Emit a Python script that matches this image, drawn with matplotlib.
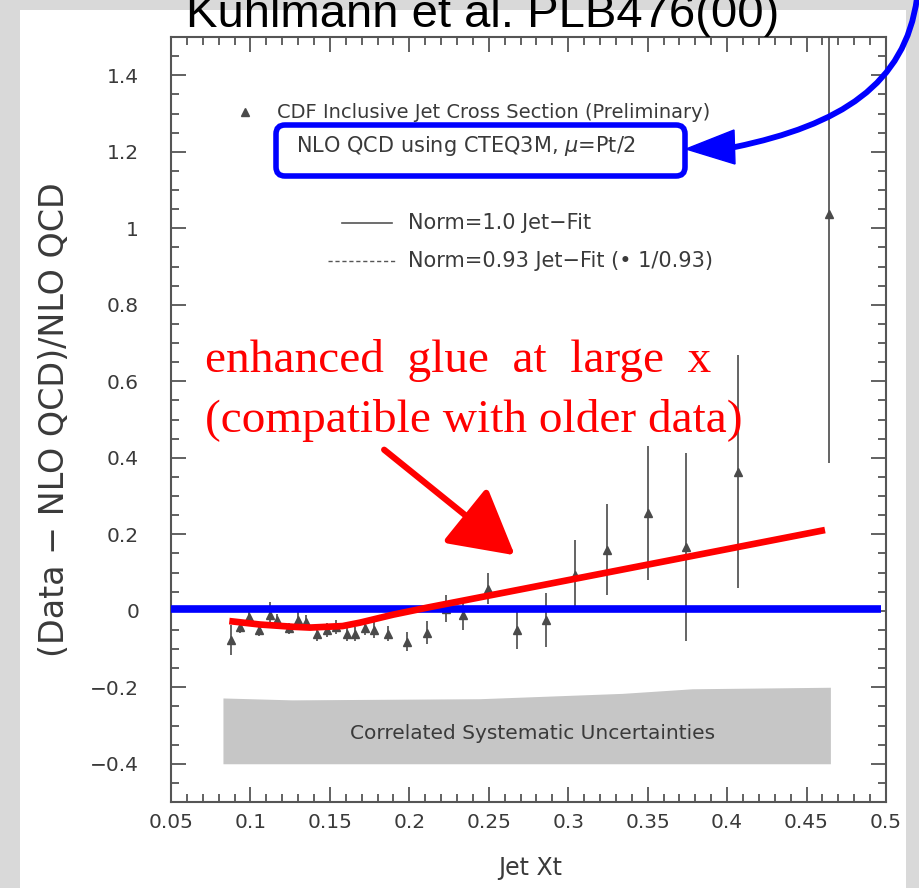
import numpy as np
import matplotlib
matplotlib.use("Agg")
import matplotlib.pyplot as plt
from matplotlib.patches import FancyBboxPatch, Rectangle, FancyArrowPatch, Polygon, PathPatch
from matplotlib.path import Path
from matplotlib.transforms import IdentityTransform

# ---------------- data ----------------
jet_xt = [0.0876, 0.0934, 0.099, 0.1056, 0.112, 0.117, 0.124, 0.130, 0.135, 0.1417,
          0.148, 0.154, 0.1606, 0.1658, 0.172, 0.178, 0.1866, 0.1985, 0.211, 0.223,
          0.234, 0.2495, 0.268, 0.286, 0.304, 0.3246, 0.350, 0.374, 0.4066, 0.464]
ratio = [-0.076, -0.042, -0.016, -0.050, -0.010, -0.024, -0.046, -0.024, -0.030, -0.060,
         -0.050, -0.042, -0.062, -0.060, -0.046, -0.050, -0.060, -0.081, -0.057, 0.005,
         -0.010, 0.058, -0.050, -0.024, 0.094, 0.160, 0.255, 0.167, 0.364, 1.037]
ratio_err = [0.040, 0.015, 0.020, 0.015, 0.032, 0.015, 0.015, 0.020, 0.018, 0.020,
             0.018, 0.018, 0.018, 0.018, 0.018, 0.020, 0.020, 0.025, 0.030, 0.035,
             0.040, 0.040, 0.050, 0.070, 0.090, 0.120, 0.175, 0.245, 0.305, 0.650]

band_x = [0.0827, 0.126, 0.244, 0.334, 0.378, 0.465]
band_top = [-0.228, -0.233, -0.230, -0.216, -0.204, -0.200]
band_bottom = [-0.400, -0.400, -0.400, -0.400, -0.400, -0.400]

glue_x = [0.0867, 0.106, 0.127, 0.1375, 0.158, 0.169, 0.190, 0.211, 0.232, 0.4616]
glue_y = [-0.027, -0.036, -0.042, -0.044, -0.040, -0.031, -0.010, 0.008, 0.025, 0.211]

nlo_x = [0.05, 0.497]
nlo_y = [0.005, 0.005]

xticks = [0.05, 0.1, 0.15, 0.2, 0.25, 0.3, 0.35, 0.4, 0.45, 0.5]
xticklabels = ["0.05", "0.1", "0.15", "0.2", "0.25", "0.3", "0.35", "0.4", "0.45", "0.5"]
yticks = [-0.4, -0.2, 0.0, 0.2, 0.4, 0.6, 0.8, 1.0, 1.2, 1.4]
yticklabels = ["\u22120.4", "\u22120.2", "0", "0.2", "0.4", "0.6", "0.8", "1", "1.2", "1.4"]

W, H = 920, 888
fig = plt.figure(figsize=(W / 100, H / 100), dpi=100)
fig.patch.set_facecolor("#d9d9d9")

def px(x, y):
    return (x, H - y)

# white slide panel
fig.add_artist(Rectangle(px(20, 888), 886, 878, transform=IdentityTransform(),
                         facecolor="white", edgecolor="none", zorder=0))

ax = fig.add_axes([171 / W, 1 - 802 / H, 715 / W, 765 / H])
ax.set_facecolor("white")
ax.set_xlim(0.05, 0.5)
ax.set_ylim(-0.5, 1.5)

dark = "#3a3a3a"
ax.fill_between(band_x, band_bottom, band_top, color="#c6c6c6", lw=0, zorder=1)
ax.errorbar(jet_xt, ratio, yerr=ratio_err, fmt="^", color="#4a4a4a", ms=6,
            elinewidth=1.2, capsize=0, zorder=3, clip_on=True)
ax.plot(nlo_x, nlo_y, color="#0000ff", lw=5.5, solid_capstyle="butt", zorder=4)
ax.plot(glue_x, glue_y, color="#ff0000", lw=4.8, solid_capstyle="butt", zorder=5)

ax.set_xticks(xticks)
ax.set_xticklabels(xticklabels)
ax.set_yticks(yticks)
ax.set_yticklabels(yticklabels)
ax.set_xticks(np.arange(0.05, 0.5001, 0.01), minor=True)
ax.set_yticks(np.arange(-0.5, 1.5001, 0.05), minor=True)
ax.tick_params(which="both", direction="in", top=True, right=True, color="#555555", width=1.3)
ax.tick_params(which="major", length=11, labelcolor=dark)
ax.tick_params(which="minor", length=6)
ax.tick_params(axis="x", which="major", labelsize=14.5, pad=8)
ax.tick_params(axis="y", which="major", labelsize=14.5, pad=23)
for s in ax.spines.values():
    s.set_color("#555555")
    s.set_linewidth(1.5)

fig.text(530 / W, 1 - 868 / H, "Jet Xt", fontsize=17, color=dark, ha="center", va="center")
fig.text(55 / W, 1 - 420 / H, "(Data \u2212 NLO QCD)/NLO QCD", fontsize=24, color=dark,
         rotation=90, ha="center", va="center")

# in-plot legend texts
fs = 15
tk = dict(transform=ax.transAxes, color=dark, va="center")
ax.plot([0.1035], [0.902], marker="^", ms=6, color="#4a4a4a", transform=ax.transAxes)
ax.text(0.148, 0.901, "CDF Inclusive Jet Cross Section (Preliminary)", fontsize=14, **tk)
ax.text(0.175, 0.857, "NLO QCD using CTEQ3M, $\\mu$=Pt/2", fontsize=fs, **tk)
ax.plot([0.239, 0.309], [0.757, 0.757], color="#555555", lw=1.2, transform=ax.transAxes)
ax.text(0.331, 0.757, "Norm=1.0 Jet\u2212Fit", fontsize=fs, **tk)
ax.plot([0.2196, 0.313], [0.707, 0.707], color="#555555", lw=1.0, ls=(0, (3, 2)),
        transform=ax.transAxes)
ax.text(0.331, 0.707, "Norm=0.93 Jet\u2212Fit (\u2022 1/0.93)", fontsize=fs, **tk)
ax.text(0.506, 0.090, "Correlated Systematic Uncertainties", fontsize=14.5, ha="center", **tk)

# title (partly off the top, as in the slide)
fig.text(483 / W, 1 - 27 / H, "Kuhlmann et al. PLB476(00)", fontsize=34,
         family=["Liberation Sans", "DejaVu Sans"],
         ha="center", va="baseline", color="black")

# red annotation text
serif = ["Liberation Serif", "DejaVu Serif"]
fig.text(205 / W, 1 - 360 / H, "enhanced\u2002glue\u2002at\u2002large\u2002x", fontsize=34,
         family=serif, color="#ff0000", va="center", ha="left")
fig.text(205 / W, 1 - 420 / H, "(compatible with older data)", fontsize=34, family=serif,
         color="#ff0000", va="center", ha="left")

# red arrow
fig.add_artist(FancyArrowPatch(px(382, 448), px(517, 557), transform=IdentityTransform(),
                               arrowstyle="-|>,head_length=18,head_width=10",
                               mutation_scale=2.2, color="#ff0000", lw=4.5, zorder=10))

# blue rounded box
fig.add_artist(FancyBboxPatch(px(276, 176), 409, 51, transform=IdentityTransform(),
                              boxstyle="round,pad=0,rounding_size=9", facecolor="none",
                              edgecolor="#0000ff", lw=4, zorder=10))

# blue curved arrow
verts = [px(917, -2), px(905, 85), px(840, 125), px(735, 147)]
codes = [Path.MOVETO, Path.CURVE4, Path.CURVE4, Path.CURVE4]
fig.add_artist(PathPatch(Path(verts, codes), transform=IdentityTransform(),
                         facecolor="none", edgecolor="#0000ff", lw=4.2,
                         capstyle="round", joinstyle="round", zorder=10))
fig.add_artist(Polygon([px(686, 149), px(734, 130), px(735, 164)], closed=True,
                       transform=IdentityTransform(), facecolor="#0000ff",
                       edgecolor="#0000ff", zorder=10))

fig.savefig("out.png", dpi=100, facecolor=fig.get_facecolor())
